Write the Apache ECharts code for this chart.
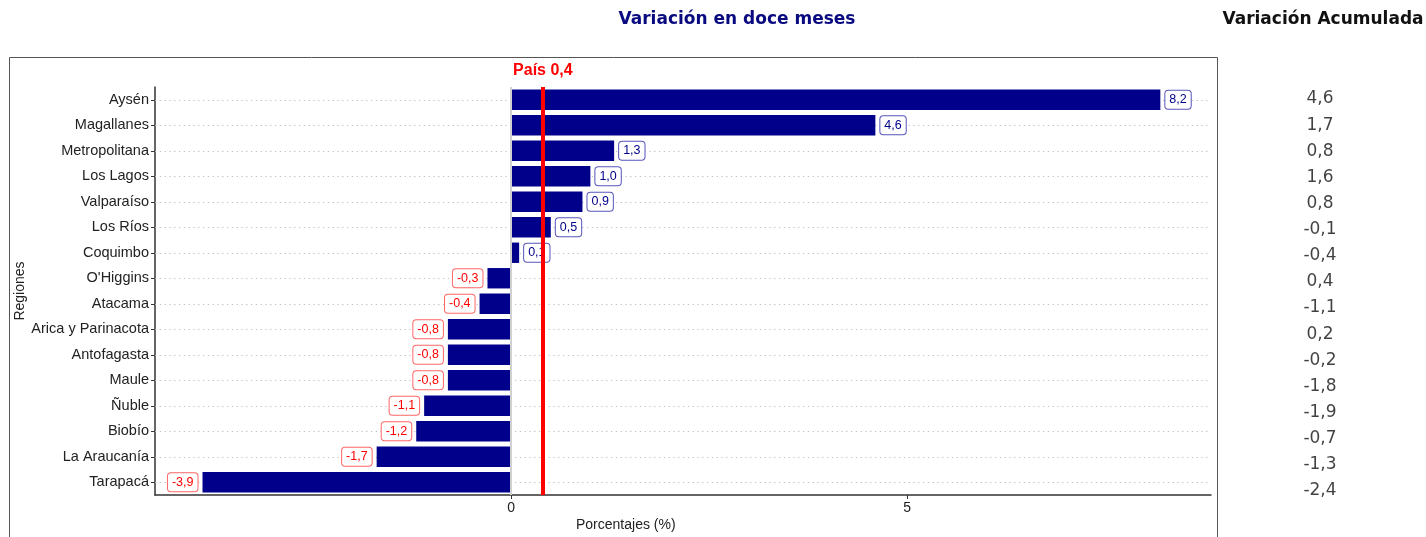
<!DOCTYPE html>
<html>
<head>
<meta charset="utf-8">
<script src="https://cdn.jsdelivr.net/npm/echarts@6/dist/echarts.min.js"></script>
<style>
  html, body { margin: 0; padding: 0; background: #fff; }
  #chart { width: 1426px; height: 537px; }
</style>
</head>
<body>
<div id="chart"></div>
<script>
// regiones, de abajo hacia arriba
var regiones = ['Tarapacá', 'La Araucanía', 'Biobío', 'Ñuble', 'Maule', 'Antofagasta',
    'Arica y Parinacota', 'Atacama', "O'Higgins", 'Coquimbo', 'Los Ríos', 'Valparaíso',
    'Los Lagos', 'Metropolitana', 'Magallanes', 'Aysén'];
var variacion12 = [-3.9, -1.7, -1.2, -1.1, -0.8, -0.8, -0.8, -0.4, -0.3, 0.1, 0.5, 0.9, 1.0, 1.3, 4.6, 8.2];
var acumulada = [-2.4, -1.3, -0.7, -1.9, -1.8, -0.2, 0.2, -1.1, 0.4, -0.4, -0.1, 0.8, 1.6, 0.8, 1.7, 4.6];
var pais = 0.4;
var xTicks = [0, 5];

var azul = '#00008B';
var rojo = '#FF0000';

function coma(v) {
    return v.toFixed(1).replace('.', ',');
}

var barData = variacion12.map(function (v) {
    var neg = v < 0;
    return {
        value: v,
        label: {
            position: neg ? 'left' : 'right',
            color: neg ? rojo : azul,
            borderColor: neg ? '#ff6666' : '#5555bb'
        }
    };
});

var chart = echarts.init(document.getElementById('chart'), null, { renderer: 'canvas' });

var option = {
    animation: false,
    textStyle: { fontFamily: 'Liberation Sans' },
    title: [
        {
            text: 'Variación en doce meses',
            left: 732, top: 6, textAlign: 'center',
            textStyle: { fontFamily: 'DejaVu Sans', fontSize: 17, fontWeight: 'bold', color: '#0a0a80' }
        },
        {
            text: 'Variación Acumulada',
            left: 1318, top: 6, textAlign: 'center',
            textStyle: { fontFamily: 'DejaVu Sans', fontSize: 17, fontWeight: 'bold', color: '#111' }
        }
    ],
    graphic: [
        {
            type: 'rect', silent: true,
            shape: { x: 9.5, y: 57.5, width: 1208, height: 500 },
            style: { fill: null, stroke: '#555', lineWidth: 1 }
        },
        {
            type: 'text', left: 576, top: 518,
            style: { text: 'Porcentajes (%)', fontSize: 14, fill: '#222', fontFamily: 'Liberation Sans' }
        }
    ],
    grid: [
        { left: 155, right: 215, top: 87, bottom: 42, outerBoundsMode: 'none' },
        { left: 1290, width: 60, top: 86, bottom: 33, outerBoundsMode: 'none' }
    ],
    xAxis: [
        {
            gridIndex: 0,
            type: 'value',
            min: -4.5, max: 8.84,
            splitLine: { show: false },
            axisLine: { show: true, onZero: false, lineStyle: { color: '#333', width: 1.5 } },
            axisTick: { show: true, length: 4, lineStyle: { color: '#333' }, customValues: xTicks },
            axisLabel: { fontSize: 14, color: '#222', margin: 6, customValues: xTicks }
        },
        { gridIndex: 1, type: 'value', min: 0, max: 1, show: false }
    ],
    yAxis: [
        {
            gridIndex: 0,
            type: 'category',
            data: regiones,
            name: 'Regiones',
            nameLocation: 'middle',
            nameGap: 128,
            nameMoveOverlap: false,
            nameRotate: 90,
            nameTextStyle: { fontSize: 14, color: '#222' },
            axisLine: { show: true, onZero: false, lineStyle: { color: '#333', width: 1.5 } },
            axisTick: { show: true, alignWithLabel: true, length: 4, lineStyle: { color: '#333' } },
            axisLabel: { fontSize: 14.5, color: '#222', margin: 6 },
            splitLine: { show: false }
        },
        { gridIndex: 1, type: 'category', data: regiones, show: false }
    ],
    series: [
        {
            // líneas guía punteadas
            type: 'line',
            xAxisIndex: 0, yAxisIndex: 0,
            data: [],
            silent: true,
            z: 1,
            markLine: {
                z: 1,
                silent: true,
                symbol: 'none',
                label: { show: false },
                lineStyle: { type: [1.2, 3.6], color: '#bbbbbb', width: 1 },
                data: regiones.map(function (r) { return { yAxis: r }; })
            }
        },
        {
            type: 'bar',
            xAxisIndex: 0, yAxisIndex: 0,
            data: barData,
            barCategoryGap: '20%',
            itemStyle: { color: azul },
            z: 3,
            label: {
                show: true,
                distance: 5,
                fontSize: 12.5,
                backgroundColor: '#fff',
                borderWidth: 1,
                borderRadius: 3,
                padding: [3, 4, 2, 4],
                formatter: function (p) { return coma(p.value); }
            },
            markLine: {
                silent: true,
                symbol: 'none',
                data: [
                    {
                        xAxis: 0,
                        lineStyle: { color: '#d0d0d0', width: 2, type: 'solid' },
                        label: { show: false }
                    },
                    {
                        xAxis: pais,
                        lineStyle: { color: rojo, width: 4, type: 'solid' },
                        label: {
                            show: true, position: 'end', distance: 8,
                            formatter: 'País ' + coma(pais),
                            color: rojo, fontSize: 16, fontWeight: 'bold'
                        }
                    }
                ]
            }
        },
        {
            type: 'scatter',
            xAxisIndex: 1, yAxisIndex: 1,
            symbolSize: 0,
            silent: true,
            data: acumulada.map(function (v, i) { return [0.5, regiones[i], v]; }),
            label: {
                show: true,
                position: 'inside',
                fontFamily: 'DejaVu Sans',
                fontSize: 17,
                color: '#111',
                formatter: function (p) { return coma(p.value[2]); }
            }
        }
    ]
};

chart.setOption(option);
window.addEventListener('resize', chart.resize);
</script>
</body>
</html>
